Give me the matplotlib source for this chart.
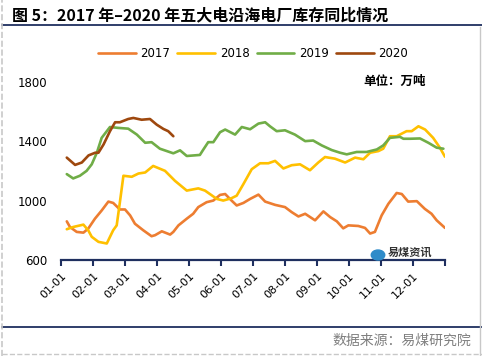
import matplotlib.pyplot as plt
from matplotlib.lines import Line2D
from matplotlib.patches import Circle

plt.rcParams['font.family'] = ['Noto Sans CJK SC', 'DejaVu Sans']

# x positions in months since 01-01, values in 万吨
x2017 = [0.18, 0.28, 0.49, 0.70, 0.85, 1.06, 1.27, 1.48, 1.63, 1.84, 2.00, 2.16, 2.31, 2.57, 2.83,
         2.94, 3.15, 3.41, 3.51, 3.67, 3.93, 4.13, 4.29, 4.55, 4.76, 4.97, 5.13, 5.33, 5.49, 5.70,
         5.91, 6.17, 6.38, 6.69, 7.00, 7.21, 7.42, 7.63, 7.94, 8.20, 8.41, 8.62, 8.82, 8.98, 9.29,
         9.50, 9.66, 9.81, 10.02, 10.23, 10.49, 10.65, 10.85, 11.12, 11.37, 11.58, 11.74, 12.00]
v2017 = [860, 822, 789, 784, 811, 878, 933, 993, 984, 940, 940, 900, 844, 800, 760,
         767, 793, 771, 789, 833, 878, 911, 956, 989, 1000, 1038, 1044, 1000, 967, 984,
         1011, 1040, 993, 971, 956, 922, 893, 911, 867, 927, 889, 860, 813, 833, 829,
         816, 778, 789, 900, 978, 1051, 1044, 993, 996, 944, 911, 867, 816]

x2018 = [0.18, 0.38, 0.70, 0.85, 0.96, 1.17, 1.43, 1.63, 1.74, 1.84, 1.95, 2.21, 2.42, 2.63, 2.88,
         3.25, 3.56, 3.93, 4.29, 4.50, 4.87, 5.07, 5.33, 5.49, 5.70, 5.96, 6.22, 6.48, 6.69, 6.95,
         7.21, 7.47, 7.78, 8.04, 8.25, 8.56, 8.88, 9.19, 9.45, 9.66, 9.92, 10.07, 10.28, 10.49, 10.80,
         10.96, 11.17, 11.38, 11.63, 11.84, 12.00]
v2018 = [807, 822, 838, 800, 756, 722, 711, 800, 833, 989, 1167, 1160, 1182, 1189, 1233,
         1200, 1133, 1067, 1082, 1067, 1011, 1000, 1016, 1033, 1111, 1211, 1251, 1251, 1267, 1216,
         1238, 1244, 1204, 1256, 1293, 1282, 1256, 1289, 1278, 1322, 1333, 1349, 1433, 1433, 1467,
         1467, 1500, 1478, 1422, 1356, 1295]

x2019 = [0.18, 0.38, 0.59, 0.80, 0.96, 1.12, 1.27, 1.53, 1.79, 2.10, 2.37, 2.63, 2.83, 3.09,
         3.51, 3.72, 3.93, 4.34, 4.45, 4.60, 4.76, 4.97, 5.13, 5.44, 5.65, 5.91, 6.17, 6.38,
         6.53, 6.74, 7.00, 7.31, 7.63, 7.88, 8.15, 8.46, 8.72, 8.93, 9.24, 9.55, 9.87, 10.07,
         10.28, 10.59, 10.70, 10.91, 11.22, 11.48, 11.74, 11.95]
v2019 = [1178, 1149, 1167, 1200, 1244, 1322, 1422, 1495, 1489, 1484, 1444, 1389, 1393, 1349,
         1318, 1338, 1300, 1307, 1344, 1393, 1393, 1460, 1478, 1444, 1495, 1480, 1518, 1527,
         1500, 1467, 1473, 1444, 1400, 1404, 1371, 1340, 1322, 1311, 1327, 1327, 1344, 1371,
         1422, 1429, 1416, 1416, 1418, 1389, 1356, 1349]

x2020 = [0.18, 0.44, 0.65, 0.86, 1.07, 1.17, 1.33, 1.53, 1.69, 1.84, 2.10, 2.26, 2.52, 2.78,
         2.99, 3.20, 3.35, 3.51]
v2020 = [1289, 1240, 1256, 1304, 1322, 1322, 1378, 1467, 1527, 1527, 1549, 1556, 1544, 1549,
         1511, 1482, 1467, 1433]

years = ['2017', '2018', '2019', '2020']
colors = ['#ED7D31', '#FFC000', '#70AD47', '#9E480E']
tick_labels = ['01-01', '02-01', '03-01', '04-01', '05-01', '06-01',
               '07-01', '08-01', '09-01', '10-01', '11-01', '12-01', '']

navy = '#1F2F5F'

fig = plt.figure(figsize=(4.82, 3.56), dpi=100)
ax = fig.add_axes([0.1266, 0.2697, 0.7966, 0.5008])

for xs, vs, c, lab in zip([x2017, x2018, x2019, x2020], [v2017, v2018, v2019, v2020], colors, years):
    ax.plot(xs, vs, color=c, lw=1.9, label=lab, solid_capstyle='round')

ax.set_xlim(0, 12)
ax.set_ylim(600, 1800)
ax.set_xticks(range(13))
ax.set_xticklabels(tick_labels, rotation=45, ha='right', va='top',
                   fontsize=8, family='DejaVu Sans', rotation_mode='anchor')
ax.set_yticks([600, 1000, 1400, 1800])
ax.set_yticklabels(['600', '1000', '1400', '1800'], fontsize=8.5, family='DejaVu Sans')
ax.tick_params(axis='y', length=0, pad=10)
ax.tick_params(axis='x', direction='out', length=4, width=1.5, color=navy, pad=4)
for s in ['top', 'right', 'left']:
    ax.spines[s].set_visible(False)
ax.spines['bottom'].set_color(navy)
ax.spines['bottom'].set_linewidth(1.6)

ax.legend(loc='lower center', bbox_to_anchor=(0.5, 1.06), ncol=4, frameon=False,
          handlelength=3.2, columnspacing=0.6, handletextpad=0.4,
          prop={'family': 'DejaVu Sans', 'size': 8.5})

ax.text(0.95, 1.0, '单位：万吨', transform=ax.transAxes, ha='right', va='center',
        fontsize=9, fontweight='bold')

# title and frame lines
fig.text(0.025, 0.958, '图 5：2017 年–2020 年五大电沿海电厂库存同比情况',
         fontsize=11.5, fontweight='bold', ha='left', va='center')
fig.add_artist(Line2D([0.004, 1], [1 - 25 / 356] * 2, color=navy, lw=1.3))
fig.add_artist(Line2D([0.004, 1], [1 - 327 / 356] * 2, color=navy, lw=1.3))
fig.add_artist(Line2D([0.004, 0.004], [0, 1], color='#C8C8C8', lw=1.2, ls='--'))
fig.add_artist(Line2D([0.996, 0.996], [0, 1 - 27 / 356], color='#C8C8C8', lw=1.0))
fig.add_artist(Line2D([0.004, 1], [0.007, 0.007], color='#C8C8C8', lw=1.0, ls='--'))

fig.text(0.977, 1 - 341 / 356, '数据来源：易煤研究院', ha='right', va='center',
         fontsize=10, color='#7F7F7F')

# logo
fig.add_artist(Circle((378 / 482, 1 - 255 / 356), 0.014, transform=fig.transFigure,
                      color='#2E8BC9'))
fig.text(388 / 482, 1 - 252 / 356, '易煤资讯', fontsize=8, fontweight='bold',
         ha='left', va='center', color='#333333')

fig.savefig('out.png', dpi=100)
